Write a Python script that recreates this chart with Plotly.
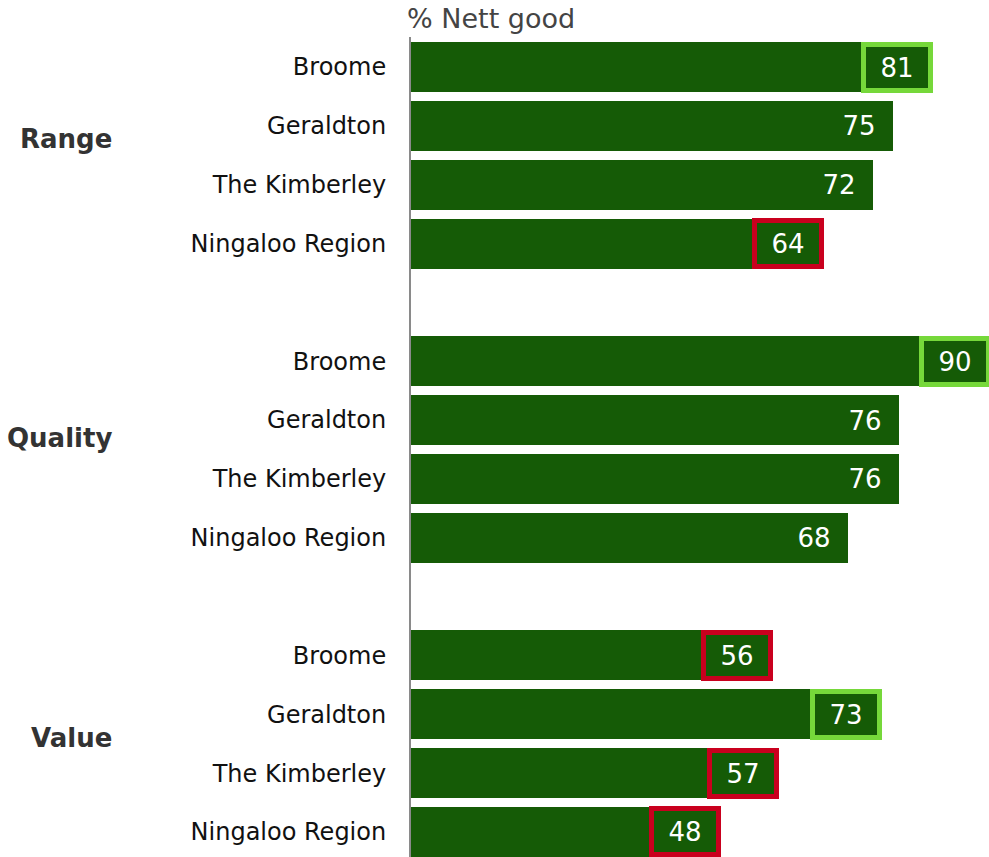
import plotly.graph_objects as go

# Survey results: % nett good by attribute and location
groups = ["Range", "Quality", "Value"]
locations = ["Broome", "Geraldton", "The Kimberley", "Ningaloo Region"]
range_vals = [81, 75, 72, 64]
quality_vals = [90, 76, 76, 68]
value_vals = [56, 73, 57, 48]
# significance flags: "hi" = significantly higher, "lo" = significantly lower
range_flags = ["hi", None, None, "lo"]
quality_flags = ["hi", None, None, None]
value_flags = ["lo", "hi", "lo", "lo"]
# vertical positions of the bold group captions (in row units)
group_label_rows = [1.22, 6.30, 11.40]

BAR = "#155b06"
HI = "#76d83a"
LO = "#c9001e"
FONT = "DejaVu Sans, Verdana, sans-serif"

W, H = 989, 857
ML, MT = 411, 37

series = [range_vals, quality_vals, value_vals]
flags = [range_flags, quality_flags, value_flags]

ys, xs, labels, fl = [], [], [], []
row = 0
for vals, fls in zip(series, flags):
    for loc, v, f in zip(locations, vals, fls):
        ys.append(row)
        xs.append(v)
        labels.append(loc)
        fl.append(f)
        row += 1
    row += 1  # blank row between groups

fig = go.Figure(
    go.Bar(
        x=xs, y=ys, orientation="h", width=0.85,
        marker=dict(color=BAR, line=dict(width=0)),
        hoverinfo="skip",
    )
)

annotations = []
for x, y, f in zip(xs, ys, fl):
    border = HI if f == "hi" else LO if f == "lo" else "rgba(0,0,0,0)"
    annotations.append(dict(
        x=x, y=y, xref="x", yref="y", text=str(x), showarrow=False,
        xanchor="right", yanchor="middle", xshift=2,
        width=62, height=41, borderwidth=5, borderpad=0,
        bordercolor=border, bgcolor="rgba(0,0,0,0)",
        font=dict(family=FONT, size=26, color="white"),
    ))

# bold group captions, right-aligned in the left margin
caption_x = (114 - ML) / (W - ML)
for gname, gy in zip(groups, group_label_rows):
    annotations.append(dict(
        x=caption_x, y=gy, xref="paper", yref="y", text="<b>" + gname + "</b>",
        showarrow=False, xanchor="right", yanchor="middle",
        font=dict(family=FONT, size=26, color="#333333"),
    ))

annotations.append(dict(
    x=0, y=1, xref="paper", yref="paper", text="% Nett good",
    showarrow=False, xanchor="left", yanchor="bottom", xshift=-6, yshift=1,
    font=dict(family=FONT, size=27, color="#444444"),
))

fig.update_layout(
    width=W, height=H,
    margin=dict(l=ML, r=0, t=MT, b=0),
    paper_bgcolor="white", plot_bgcolor="white",
    showlegend=False, bargap=0,
    annotations=annotations,
    xaxis=dict(range=[0, 90], visible=False, fixedrange=True),
    yaxis=dict(
        range=[13.425, -0.51], tickmode="array", tickvals=ys, ticktext=labels,
        ticks="", showgrid=False, zeroline=False,
        showline=True, linecolor="#8a8a8a", linewidth=2,
        ticklabelstandoff=18,
        tickfont=dict(family=FONT, size=24, color="#111111"),
        fixedrange=True,
    ),
)

fig.write_html("out.html")
